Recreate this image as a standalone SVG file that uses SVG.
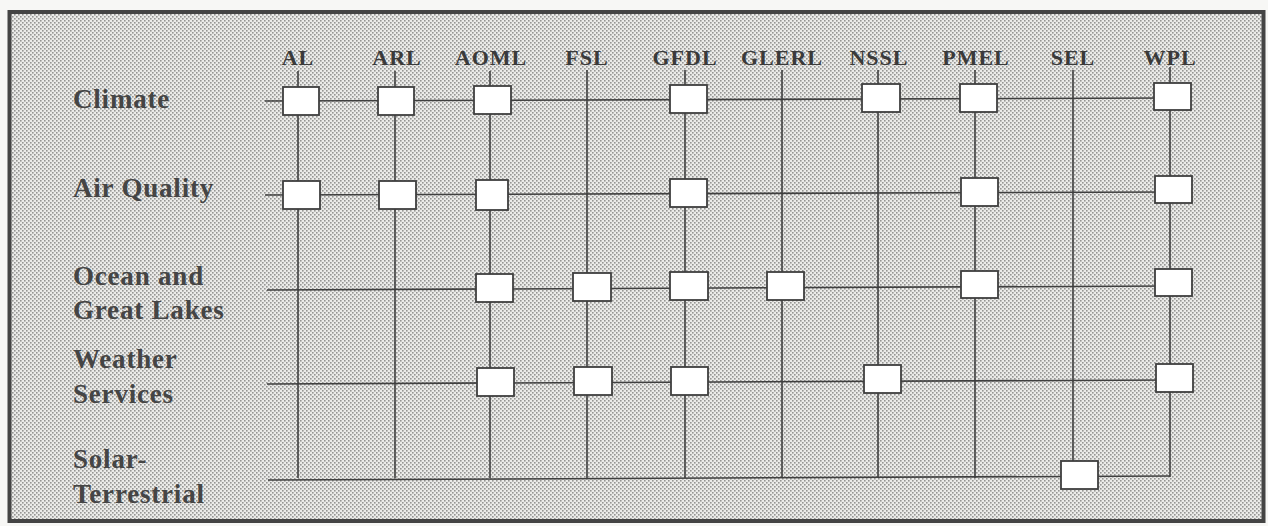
<svg xmlns="http://www.w3.org/2000/svg" width="1268" height="526" viewBox="0 0 1268 526">
<defs>
<pattern id="dots" width="4" height="4" patternUnits="userSpaceOnUse">
<rect width="4" height="4" fill="#ebebe9"/>
<rect x="0" y="0" width="1.6" height="1.6" fill="#959593"/>
<rect x="2" y="2" width="1.6" height="1.6" fill="#959593"/>
</pattern>
<style>
.ln{stroke:#3f3f3f;stroke-width:1.6;fill:none}
.bx{fill:#ffffff;stroke:#3f3f3f;stroke-width:1.8}
.col{font-family:"Liberation Serif",serif;font-weight:bold;font-size:22px;letter-spacing:1px;fill:#3a3a3a;text-anchor:middle}
.row{font-family:"Liberation Serif",serif;font-weight:bold;font-size:27px;letter-spacing:0.8px;fill:#454545}
</style>
</defs>
<rect width="1268" height="526" fill="#f7f7f5"/>
<rect x="9.5" y="12" width="1254" height="509" fill="url(#dots)" stroke="#444" stroke-width="4"/>

<g id="column-labels">
<text class="col" x="298" y="65">AL</text>
<text class="col" x="397" y="65">ARL</text>
<text class="col" x="491" y="65">AOML</text>
<text class="col" x="587" y="65">FSL</text>
<text class="col" x="685" y="65">GFDL</text>
<text class="col" x="782" y="65">GLERL</text>
<text class="col" x="879" y="65">NSSL</text>
<text class="col" x="976" y="65">PMEL</text>
<text class="col" x="1073" y="65">SEL</text>
<text class="col" x="1170" y="65">WPL</text>
</g>

<g id="row-labels">
<text class="row" x="73" y="108">Climate</text>
<text class="row" x="73" y="197">Air Quality</text>
<text class="row" x="73" y="285">Ocean and</text>
<text class="row" x="73" y="319">Great Lakes</text>
<text class="row" x="73" y="368">Weather</text>
<text class="row" x="73" y="403">Services</text>
<text class="row" x="73" y="468">Solar-</text>
<text class="row" x="73" y="503">Terrestrial</text>
</g>

<g id="connectors">
<line class="ln" x1="298" y1="71" x2="298" y2="478"/>
<line class="ln" x1="395" y1="71" x2="395" y2="478"/>
<line class="ln" x1="490" y1="71" x2="490" y2="478"/>
<line class="ln" x1="587" y1="70" x2="587" y2="478"/>
<line class="ln" x1="685" y1="70" x2="685" y2="478"/>
<line class="ln" x1="782" y1="70" x2="782" y2="478"/>
<line class="ln" x1="878" y1="70" x2="878" y2="478"/>
<line class="ln" x1="975" y1="70" x2="975" y2="478"/>
<line class="ln" x1="1073" y1="70" x2="1073" y2="478"/>
<line class="ln" x1="1170" y1="67" x2="1170" y2="477"/>
<line class="ln" x1="265" y1="101" x2="1170" y2="98"/>
<line class="ln" x1="265" y1="195" x2="1170" y2="192"/>
<line class="ln" x1="267" y1="290" x2="1170" y2="286"/>
<line class="ln" x1="267" y1="384" x2="1170" y2="380"/>
<line class="ln" x1="268" y1="480" x2="1170" y2="476"/>
</g>

<g id="node-climate-AL"><rect class="bx" x="283" y="87" width="36" height="28"/></g>
<g id="node-climate-ARL"><rect class="bx" x="378" y="87" width="36" height="28"/></g>
<g id="node-climate-AOML"><rect class="bx" x="474" y="86" width="37" height="28"/></g>
<g id="node-climate-GFDL"><rect class="bx" x="670" y="85" width="37" height="28"/></g>
<g id="node-climate-NSSL"><rect class="bx" x="862" y="84" width="38" height="28"/></g>
<g id="node-climate-PMEL"><rect class="bx" x="960" y="84" width="37" height="28"/></g>
<g id="node-climate-WPL"><rect class="bx" x="1154" y="83" width="37" height="27"/></g>

<g id="node-airquality-AL"><rect class="bx" x="283" y="181" width="37" height="28"/></g>
<g id="node-airquality-ARL"><rect class="bx" x="379" y="181" width="37" height="28"/></g>
<g id="node-airquality-AOML"><rect class="bx" x="476" y="180" width="32" height="30"/></g>
<g id="node-airquality-GFDL"><rect class="bx" x="670" y="179" width="37" height="28"/></g>
<g id="node-airquality-PMEL"><rect class="bx" x="961" y="178" width="37" height="28"/></g>
<g id="node-airquality-WPL"><rect class="bx" x="1155" y="176" width="37" height="27"/></g>

<g id="node-ocean-AOML"><rect class="bx" x="476" y="274" width="37" height="28"/></g>
<g id="node-ocean-FSL"><rect class="bx" x="573" y="273" width="38" height="28"/></g>
<g id="node-ocean-GFDL"><rect class="bx" x="670" y="272" width="38" height="28"/></g>
<g id="node-ocean-GLERL"><rect class="bx" x="767" y="272" width="37" height="28"/></g>
<g id="node-ocean-PMEL"><rect class="bx" x="961" y="271" width="37" height="27"/></g>
<g id="node-ocean-WPL"><rect class="bx" x="1155" y="269" width="37" height="27"/></g>

<g id="node-weather-AOML"><rect class="bx" x="477" y="368" width="37" height="28"/></g>
<g id="node-weather-FSL"><rect class="bx" x="574" y="367" width="38" height="28"/></g>
<g id="node-weather-GFDL"><rect class="bx" x="671" y="367" width="37" height="28"/></g>
<g id="node-weather-NSSL"><rect class="bx" x="864" y="365" width="37" height="28"/></g>
<g id="node-weather-WPL"><rect class="bx" x="1156" y="364" width="37" height="28"/></g>

<g id="node-solar-SEL"><rect class="bx" x="1061" y="461" width="37" height="28"/></g>
</svg>
